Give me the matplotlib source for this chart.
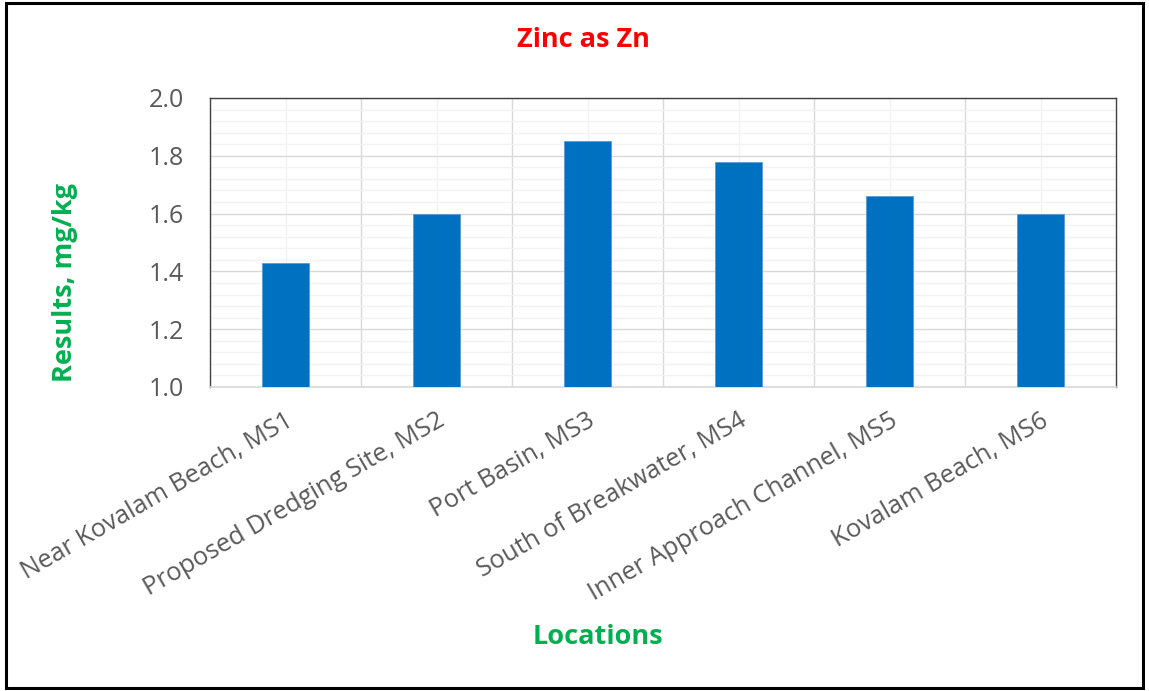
#!/usr/bin/env python3
import matplotlib.pyplot as plt
from matplotlib.patches import Rectangle
from matplotlib.ticker import MultipleLocator
from matplotlib.transforms import ScaledTranslation

locations = ['Near Kovalam Beach, MS1', 'Proposed Dredging Site, MS2', 'Port Basin, MS3',
             'South of Breakwater, MS4', 'Inner Approach Channel, MS5', 'Kovalam Beach, MS6']
zinc = [1.43, 1.60, 1.85, 1.78, 1.66, 1.60]
yticks = [1.0, 1.2, 1.4, 1.6, 1.8, 2.0]

plt.rcParams['font.family'] = ['Open Sans', 'DejaVu Sans']

fig = plt.figure(figsize=(11.49, 6.91), dpi=100)
ax = fig.add_axes([210 / 1149, 1 - 387 / 691, (1116 - 210) / 1149, (387 - 98) / 691])

x = list(range(len(locations)))
ax.bar(x, [v - 1.0 for v in zinc], bottom=1.0, width=0.31, color='#0070C0',
       edgecolor='#5B9BD5', linewidth=0.6, zorder=3)

ax.set_xlim(-0.5, len(locations) - 0.5)
ax.set_ylim(1.0, 2.0)
ax.set_yticks(yticks)
ax.set_yticklabels([f'{t:.1f}' for t in yticks], fontsize=18, color='#595959')
ax.yaxis.set_minor_locator(MultipleLocator(0.04))

# category boundaries as major vertical grid, centres as minor
ax.set_xticks([i + 0.5 for i in x[:-1]])
ax.set_xticks(x, minor=True)
ax.set_xticklabels([])
ax.set_xticklabels(locations, minor=True, rotation=30, ha='right', va='center',
                   rotation_mode='anchor', fontsize=18.3, color='#595959')
ax.tick_params(axis='x', which='both', length=0)
ax.tick_params(axis='x', which='minor', pad=23)
shift = ScaledTranslation(6 / 100, 0, fig.dpi_scale_trans)
for lbl in ax.get_xticklabels(minor=True):
    lbl.set_transform(lbl.get_transform() + shift)
ax.tick_params(axis='y', which='both', length=0, pad=19)

ax.grid(which='major', color='#D9D9D9', linewidth=1.0, zorder=0)
ax.grid(which='minor', color='#F2F2F2', linewidth=1.0, zorder=0)
ax.set_axisbelow(True)

for side in ['left', 'top', 'right']:
    ax.spines[side].set_color('#404040')
    ax.spines[side].set_linewidth(1.0)
ax.spines['bottom'].set_color('#D9D9D9')
ax.spines['bottom'].set_linewidth(1.2)

fig.text(583 / 1149, 1 - 40 / 691, 'Zinc as Zn', color='#FF0000', fontsize=19.5,
         fontweight='bold', ha='center', va='center')
fig.text(65 / 1149, 1 - 282 / 691, 'Results, mg/kg', color='#00B050', fontsize=19.5,
         fontweight='bold', rotation=90, ha='center', va='center')
fig.text(598 / 1149, 1 - 637 / 691, 'Locations', color='#00B050', fontsize=19.5,
         fontweight='bold', ha='center', va='center')

fig.patches.append(Rectangle((6 / 1149, 3 / 691), 1137 / 1149, 685 / 691,
                             transform=fig.transFigure, fill=False,
                             edgecolor='black', linewidth=2.2))

fig.savefig('out.png', dpi=100)
